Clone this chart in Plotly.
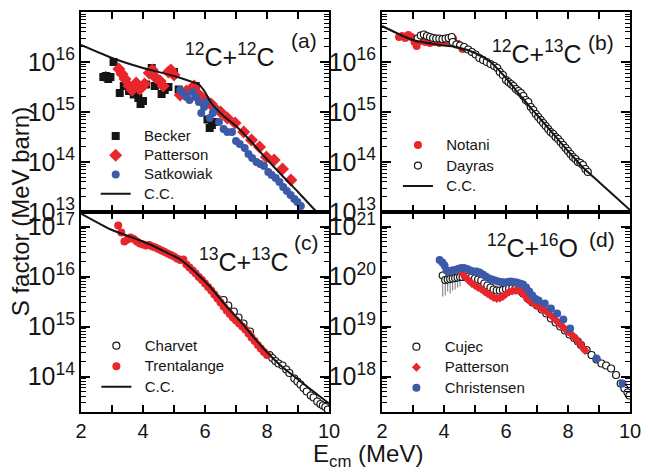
import numpy as np
import plotly.graph_objects as go

# ---------------- (a) 12C+12C ----------------
a_cc_e = [2.0, 3.0, 4.0, 5.0, 5.5, 5.8, 6.0, 6.2, 6.6, 7.0, 7.5, 8.0, 8.5, 9.0, 9.6]
a_cc_log = [16.34, 16.08, 15.88, 15.72, 15.62, 15.55, 15.40, 15.18, 14.92, 14.72, 14.40, 14.05, 13.72, 13.40, 13.00]

becker_e = [2.72, 2.80, 2.88, 2.95, 3.05, 3.25, 3.38, 3.55, 3.70, 3.85, 3.92, 4.00, 4.10,
            4.28, 4.38, 4.60, 4.70, 4.82, 5.00, 5.15, 5.70, 6.08, 6.15, 6.22, 6.30]
becker_log = [15.70, 15.72, 15.66, 15.70, 16.00, 15.38, 15.52, 15.42, 15.35, 15.28, 15.16, 15.22, 15.55,
              15.88, 15.52, 15.36, 15.44, 15.50, 15.80, 15.45, 15.52, 14.85, 14.68, 14.74, 14.80]
becker_err = [0.09, 0.10, 0.08, 0.09, 0, 0, 0, 0, 0, 0, 0, 0, 0,
              0, 0, 0, 0, 0, 0, 0, 0, 0, 0, 0, 0]

patt_a_e = [3.22, 3.32, 3.42, 3.55, 3.65, 3.78, 3.90, 4.05, 4.20, 4.30, 4.42, 4.55, 4.65, 4.82, 4.90,
            5.00, 5.20, 5.40, 5.55, 5.65, 5.78, 5.92, 6.05, 6.20, 6.30, 6.50, 6.72, 6.97, 7.25, 7.50,
            7.76, 7.98, 8.23, 8.50, 8.77]
patt_a_log = [15.86, 15.76, 15.66, 15.52, 15.44, 15.58, 15.46, 15.56, 15.78, 15.84, 15.68, 15.62, 15.52, 15.80, 15.84,
              15.74, 15.34, 15.42, 15.46, 15.52, 15.36, 15.28, 15.22, 15.16, 15.08, 15.00, 14.88, 14.78, 14.60, 14.44,
              14.30, 14.10, 14.04, 13.86, 13.64]

satk_e = [5.20, 5.30, 5.40, 5.50, 5.60, 5.70, 5.80, 5.88, 5.97, 6.05, 6.15, 6.25, 6.32, 6.45, 6.60, 6.72,
          6.87, 7.00, 7.12, 7.28, 7.40, 7.52, 7.66, 7.78, 7.90, 8.04, 8.15, 8.28, 8.40, 8.52, 8.64, 8.76,
          8.88, 8.98, 9.09]
satk_log = [15.44, 15.38, 15.30, 15.24, 15.40, 15.30, 15.20, 14.98, 15.10, 15.20, 14.88, 14.98, 15.04, 14.80, 14.66, 14.60,
            14.60, 14.42, 14.36, 14.28, 14.16, 14.08, 14.00, 13.96, 13.92, 13.80, 13.74, 13.68, 13.60, 13.50, 13.42, 13.34,
            13.26, 13.20, 13.12]

# ---------------- (b) 12C+13C ----------------
b_cc_e = [2.0, 3.0, 4.0, 4.4, 5.0, 5.5, 6.0, 6.5, 7.0, 7.5, 8.0, 8.5, 9.0, 9.5, 10.0]
b_cc_log = [16.72, 16.44, 16.33, 16.30, 16.18, 16.00, 15.68, 15.30, 14.94, 14.58, 14.22, 13.88, 13.60, 13.32, 13.04]

notani_e = [2.55, 2.65, 2.75, 2.85, 2.95, 3.05, 3.12, 3.25, 3.40, 3.55, 3.70, 3.85, 4.00, 4.15, 4.30, 4.45, 4.60]
notani_log = [16.50, 16.52, 16.48, 16.54, 16.50, 16.40, 16.32, 16.42, 16.40, 16.38, 16.40, 16.38, 16.40, 16.42, 16.46, 16.36, 16.26]

dayras_e = [3.15, 3.25, 3.35, 3.45, 3.55, 3.65, 3.75, 3.85, 3.95, 4.05, 4.15, 4.25, 4.28, 4.40, 4.52, 4.65,
            4.78, 4.90, 5.02, 5.14, 5.26, 5.38, 5.50, 5.62, 5.72, 5.80, 5.90, 6.00, 6.08, 6.16, 6.24, 6.32,
            6.40, 6.48, 6.56, 6.64, 6.72, 6.80, 6.88, 6.96, 7.04, 7.12, 7.20, 7.28, 7.36, 7.44, 7.52, 7.60,
            7.68, 7.76, 7.84, 7.92, 8.00, 8.08, 8.16, 8.24, 8.32, 8.40, 8.48, 8.56, 8.64]
dayras_log = [16.47, 16.53, 16.55, 16.52, 16.50, 16.48, 16.47, 16.47, 16.46, 16.47, 16.48, 16.50, 16.40, 16.35, 16.33, 16.30,
              16.25, 16.20, 16.15, 16.08, 16.04, 16.00, 15.96, 15.92, 15.88, 15.80, 15.74, 15.64, 15.60, 15.56, 15.52, 15.46,
              15.42, 15.38, 15.32, 15.24, 15.20, 15.10, 15.04, 14.96, 14.90, 14.84, 14.78, 14.72, 14.66, 14.60, 14.56, 14.50,
              14.46, 14.40, 14.34, 14.28, 14.22, 14.16, 14.10, 14.06, 14.00, 13.98, 13.94, 13.86, 13.80]

# ---------------- (c) 13C+13C ----------------
c_cc_e = [2.0, 3.0, 4.0, 4.6, 5.2, 5.7, 6.2, 6.7, 7.2, 7.8, 8.4, 9.0, 9.5, 10.0]
c_cc_log = [17.26, 16.93, 16.70, 16.53, 16.34, 16.08, 15.77, 15.40, 15.06, 14.62, 14.24, 13.94, 13.70, 13.46]

charvet_e = [6.60, 6.75, 6.93, 7.08, 7.24, 7.45, 8.08, 8.17, 8.27, 8.37, 8.50, 8.62, 8.72, 8.88, 8.98,
             9.08, 9.18, 9.28, 9.41, 9.50, 9.62, 9.72, 9.80, 9.88, 9.96]
charvet_log = [15.53, 15.42, 15.30, 15.18, 15.06, 14.90, 14.43, 14.37, 14.31, 14.26, 14.22, 14.14, 14.07, 13.96, 13.90,
               13.84, 13.77, 13.70, 13.62, 13.58, 13.50, 13.45, 13.42, 13.39, 13.34]

trent_e = [3.20, 3.30, 3.40, 3.50, 3.60, 3.70, 3.80, 3.90, 4.00, 4.10, 4.20, 4.30, 4.40, 4.50, 4.60, 4.70,
           4.80, 4.90, 5.00, 5.10, 5.20, 5.30, 5.40, 5.50, 5.60, 5.70, 5.80, 5.90, 6.00, 6.10, 6.20, 6.30,
           6.40, 6.50, 6.60, 6.70, 6.80, 6.90, 7.00, 7.10, 7.20, 7.30, 7.40, 7.50, 7.60, 7.70, 7.80, 7.90, 8.00]
trent_log = [17.02, 16.88, 16.70, 16.74, 16.78, 16.75, 16.70, 16.66, 16.64, 16.62, 16.63, 16.60, 16.58, 16.55, 16.52, 16.49,
             16.46, 16.43, 16.40, 16.36, 16.33, 16.34, 16.24, 16.18, 16.12, 16.06, 15.99, 15.93, 15.86, 15.79, 15.72, 15.64,
             15.56, 15.48, 15.40, 15.32, 15.25, 15.18, 15.12, 15.06, 15.00, 14.94, 14.86, 14.78, 14.71, 14.63, 14.56, 14.49, 14.43]

# ---------------- (d) 12C+16O ----------------
cujec_e = [3.96, 4.04, 4.12, 4.20, 4.28, 4.36, 4.44, 4.52, 4.60, 4.70, 4.80, 4.90, 5.00, 5.10, 5.20, 5.30,
           5.40, 5.50, 5.60, 5.70, 5.80, 5.90, 6.00, 6.10, 6.20, 6.30, 6.40, 6.55, 6.70, 6.85, 7.00, 7.15,
           7.30, 7.45, 7.60, 7.75, 7.90, 8.05, 8.20, 8.32, 8.42, 8.60, 8.76, 8.92, 9.08, 9.23, 9.39, 9.55,
           9.70, 9.82, 9.92, 9.98]
cujec_log = [20.02, 19.93, 19.94, 19.95, 19.96, 19.97, 19.98, 19.99, 19.99, 19.99, 20.00, 19.99, 19.96, 19.94, 19.92, 19.86,
             19.82, 19.78, 19.74, 19.72, 19.72, 19.73, 19.75, 19.76, 19.76, 19.75, 19.73, 19.66, 19.56, 19.48, 19.42, 19.34,
             19.26, 19.16, 19.08, 19.00, 18.92, 18.84, 18.77, 18.70, 18.63, 18.53, 18.43, 18.34, 18.26, 18.22, 18.16, 18.03,
             17.86, 17.76, 17.68, 17.62]
# lower ends of the Cujec error bars (log10), only the low-energy points carry them
cujec_low_log = [19.60, 19.62, 19.70, 19.66, 19.72, 19.74, 19.78, 19.80]

patt_d_e = [4.60, 4.70, 4.80, 4.90, 5.00, 5.10, 5.20, 5.30, 5.40, 5.50, 5.60, 5.70, 5.80, 5.90, 6.00, 6.10,
            6.20, 6.30, 6.40, 6.50, 6.60, 6.70, 6.80, 6.90, 7.00, 7.10, 7.20, 7.30, 7.40, 7.50, 7.60, 7.70,
            7.80, 7.90, 8.00, 8.10, 8.20, 8.30, 8.40, 8.50, 8.55]
patt_d_log = [20.05, 19.98, 19.92, 19.86, 19.82, 19.78, 19.75, 19.70, 19.66, 19.62, 19.58, 19.56, 19.57, 19.60, 19.65, 19.69,
              19.71, 19.72, 19.72, 19.70, 19.62, 19.54, 19.50, 19.46, 19.42, 19.38, 19.34, 19.30, 19.25, 19.19, 19.13, 19.07,
              19.01, 18.95, 18.90, 18.85, 18.79, 18.72, 18.65, 18.56, 18.52]

christ_e = [3.86, 3.95, 4.02, 4.08, 4.16, 4.25, 4.35, 4.45, 4.55, 4.65, 4.75, 4.85, 4.95, 5.05, 5.15, 5.25,
            5.35, 5.45, 5.55, 5.65, 5.75, 5.85, 5.95, 6.05, 6.15, 6.25, 6.35, 6.45, 6.55, 6.65, 6.75, 6.85,
            6.95, 7.05, 7.25, 7.45, 7.65, 7.85, 8.07, 8.92, 9.76]
christ_log = [20.33, 20.28, 20.22, 20.12, 20.10, 20.12, 20.13, 20.15, 20.17, 20.17, 20.15, 20.12, 20.10, 20.10, 20.08, 20.04,
              20.00, 19.96, 19.94, 19.92, 19.90, 19.89, 19.88, 19.89, 19.90, 19.89, 19.88, 19.86, 19.84, 19.78, 19.70, 19.62,
              19.55, 19.52, 19.46, 19.36, 19.26, 19.14, 18.96, 18.36, 17.86]

x_ticks = [2, 3, 4, 5, 6, 7, 8, 9, 10]
x_ticktext = ["2", "", "4", "", "6", "", "8", "", "10"]

RED = "#e8262b"
BLUE = "#3c5aa8"
BLACK = "#151515"
FONT = "Liberation Sans, Arial, Helvetica, sans-serif"


def s(logs):
    return 10 ** np.asarray(logs, dtype=float)


def entry(label):
    # legend entry text: 15px type, nudged right of the symbol
    return '<span style="font-size:15px">\u00a0\u00a0' + label + '</span>'


fig = go.Figure()

# panel (a)
b_s = s(becker_log)
b_err = np.asarray(becker_err)
fig.add_trace(go.Scatter(
    x=becker_e, y=b_s, mode="markers", name=entry("Becker"), legend="legend",
    marker=dict(symbol="square", size=8, color=BLACK),
    error_y=dict(type="data", symmetric=False, array=b_s * (10 ** b_err - 1),
                 arrayminus=b_s * (1 - 10 ** -b_err), color=BLACK, thickness=1, width=0),
    xaxis="x", yaxis="y"))
fig.add_trace(go.Scatter(
    x=patt_a_e, y=s(patt_a_log), mode="markers", name=entry("Patterson"), legend="legend",
    marker=dict(symbol="diamond", size=10, color=RED), xaxis="x", yaxis="y"))
fig.add_trace(go.Scatter(
    x=satk_e, y=s(satk_log), mode="markers", name=entry("Satkowiak"), legend="legend",
    marker=dict(symbol="circle", size=8, color=BLUE), xaxis="x", yaxis="y"))
fig.add_trace(go.Scatter(
    x=a_cc_e, y=s(a_cc_log), mode="lines", name=entry("C.C."), legend="legend",
    line=dict(color=BLACK, width=2, shape="spline", smoothing=0.6), xaxis="x", yaxis="y"))

# panel (b)
fig.add_trace(go.Scatter(
    x=notani_e, y=s(notani_log), mode="markers", name=entry("Notani"), legend="legend2",
    marker=dict(symbol="circle", size=8, color=RED), xaxis="x2", yaxis="y2"))
fig.add_trace(go.Scatter(
    x=dayras_e, y=s(dayras_log), mode="markers", name=entry("Dayras"), legend="legend2",
    marker=dict(symbol="circle", size=7, color="white", line=dict(color=BLACK, width=1.2)),
    xaxis="x2", yaxis="y2"))
fig.add_trace(go.Scatter(
    x=b_cc_e, y=s(b_cc_log), mode="lines", name=entry("C.C."), legend="legend2",
    line=dict(color=BLACK, width=2, shape="spline", smoothing=0.6), xaxis="x2", yaxis="y2"))

# panel (c)
fig.add_trace(go.Scatter(
    x=charvet_e, y=s(charvet_log), mode="markers", name=entry("Charvet"), legend="legend3",
    marker=dict(symbol="circle", size=7, color="white", line=dict(color=BLACK, width=1.2)),
    xaxis="x3", yaxis="y3"))
fig.add_trace(go.Scatter(
    x=trent_e, y=s(trent_log), mode="markers", name=entry("Trentalange"), legend="legend3",
    marker=dict(symbol="circle", size=8, color=RED), xaxis="x3", yaxis="y3"))
fig.add_trace(go.Scatter(
    x=c_cc_e, y=s(c_cc_log), mode="lines", name=entry("C.C."), legend="legend3",
    line=dict(color=BLACK, width=2, shape="spline", smoothing=0.6), xaxis="x3", yaxis="y3"))

# panel (d)
cu_s = s(cujec_log)
cu_minus = np.zeros(len(cu_s))
cu_minus[:len(cujec_low_log)] = cu_s[:len(cujec_low_log)] - s(cujec_low_log)
fig.add_trace(go.Scatter(
    x=cujec_e, y=cu_s, mode="markers", name=entry("Cujec"), legend="legend4",
    marker=dict(symbol="circle", size=7, color="white", line=dict(color=BLACK, width=1.2)),
    error_y=dict(type="data", symmetric=False, array=np.zeros(len(cu_s)), arrayminus=cu_minus,
                 color="#777777", thickness=1, width=0),
    xaxis="x4", yaxis="y4"))
fig.add_trace(go.Scatter(
    x=patt_d_e, y=s(patt_d_log), mode="markers", name=entry("Patterson"), legend="legend4",
    marker=dict(symbol="diamond", size=7, color=RED),
    error_y=dict(type="percent", value=12, color=RED, thickness=1, width=0),
    xaxis="x4", yaxis="y4"))
fig.add_trace(go.Scatter(
    x=christ_e, y=s(christ_log), mode="markers", name=entry("Christensen"), legend="legend4",
    marker=dict(symbol="circle", size=8, color=BLUE), xaxis="x4", yaxis="y4"))

# axes
xd_left = [0.0, 0.4518]
xd_right = [0.5482, 1.0]
common_x = dict(range=[2, 10], tickmode="array", tickvals=x_ticks, ticktext=x_ticktext,
                ticks="inside", ticklen=7, tickwidth=1.5, tickcolor="black",
                showline=True, linewidth=2, linecolor="black", mirror="allticks",
                showgrid=False, zeroline=False,
                tickfont=dict(family=FONT, size=20, color=BLACK))
common_y = dict(type="log", dtick=1, exponentformat="power",
                ticks="inside", ticklen=9, tickwidth=1.5, tickcolor="black",
                showline=True, linewidth=2, linecolor="black", mirror="allticks",
                showgrid=False, zeroline=False,
                minor=dict(dtick="D1", ticks="inside", ticklen=5, tickwidth=1, tickcolor="black", showgrid=False),
                tickfont=dict(family=FONT, size=20, color=BLACK))

fig.update_layout(
    xaxis=dict(common_x, domain=xd_left, anchor="y", showticklabels=False),
    yaxis=dict(common_y, domain=[0.5, 1.0], anchor="x", range=[13, 17]),
    xaxis2=dict(common_x, domain=xd_right, anchor="y2", showticklabels=False),
    yaxis2=dict(common_y, domain=[0.5, 1.0], anchor="x2", range=[13, 17]),
    xaxis3=dict(common_x, domain=xd_left, anchor="y3"),
    yaxis3=dict(common_y, domain=[0.0, 0.5], anchor="x3", range=[13.29, 17.29]),
    xaxis4=dict(common_x, domain=xd_right, anchor="y4"),
    yaxis4=dict(common_y, domain=[0.0, 0.5], anchor="x4", range=[17.29, 21.29]),
)

leg_common = dict(xanchor="left", yanchor="top", bgcolor="rgba(0,0,0,0)", borderwidth=0,
                  itemwidth=30, tracegroupgap=0)
fig.update_layout(
    legend=dict(leg_common, x=0.0268, y=0.7265, font=dict(family=FONT, size=12.5, color=BLACK)),
    legend2=dict(leg_common, x=0.5773, y=0.7057, font=dict(family=FONT, size=13.5, color=BLACK)),
    legend3=dict(leg_common, x=0.028, y=0.204, font=dict(family=FONT, size=13.5, color=BLACK)),
    legend4=dict(leg_common, x=0.5745, y=0.2015, font=dict(family=FONT, size=13.5, color=BLACK)),
)

# reaction and panel labels
labels = [
    ("x domain", "y domain", 0.60, 0.785, "<sup>12</sup>C+<sup>12</sup>C", 25),
    ("x domain", "y domain", 0.899, 0.86, "(a)", 21),
    ("x2 domain", "y2 domain", 0.625, 0.80, "<sup>12</sup>C+<sup>13</sup>C", 25),
    ("x2 domain", "y2 domain", 0.883, 0.85, "(b)", 21),
    ("x3 domain", "y3 domain", 0.656, 0.76, "<sup>13</sup>C+<sup>13</sup>C", 25),
    ("x3 domain", "y3 domain", 0.909, 0.85, "(c)", 21),
    ("x4 domain", "y4 domain", 0.605, 0.83, "<sup>12</sup>C+<sup>16</sup>O", 25),
    ("x4 domain", "y4 domain", 0.889, 0.865, "(d)", 21),
]
for xr, yr, xx, yy, txt, sz in labels:
    fig.add_annotation(xref=xr, yref=yr, x=xx, y=yy, text=txt, showarrow=False,
                       xanchor="center", yanchor="middle",
                       font=dict(family=FONT, size=sz, color=BLACK))

# axis titles
fig.add_annotation(xref="paper", yref="paper", x=-0.1107, y=0.5, text="S factor (MeV barn)",
                   textangle=-90, showarrow=False, xanchor="center", yanchor="middle",
                   font=dict(family=FONT, size=24, color=BLACK))
fig.add_annotation(xref="paper", yref="paper", x=0.523, y=-0.1075, text="E<sub>cm</sub> (MeV)",
                   showarrow=False, xanchor="center", yanchor="middle",
                   font=dict(family=FONT, size=24, color=BLACK))

fig.update_layout(
    width=648, height=476,
    margin=dict(l=81, r=7, t=12, b=64),
    paper_bgcolor="white", plot_bgcolor="white",
    showlegend=True,
)

fig.write_html("out.html")
